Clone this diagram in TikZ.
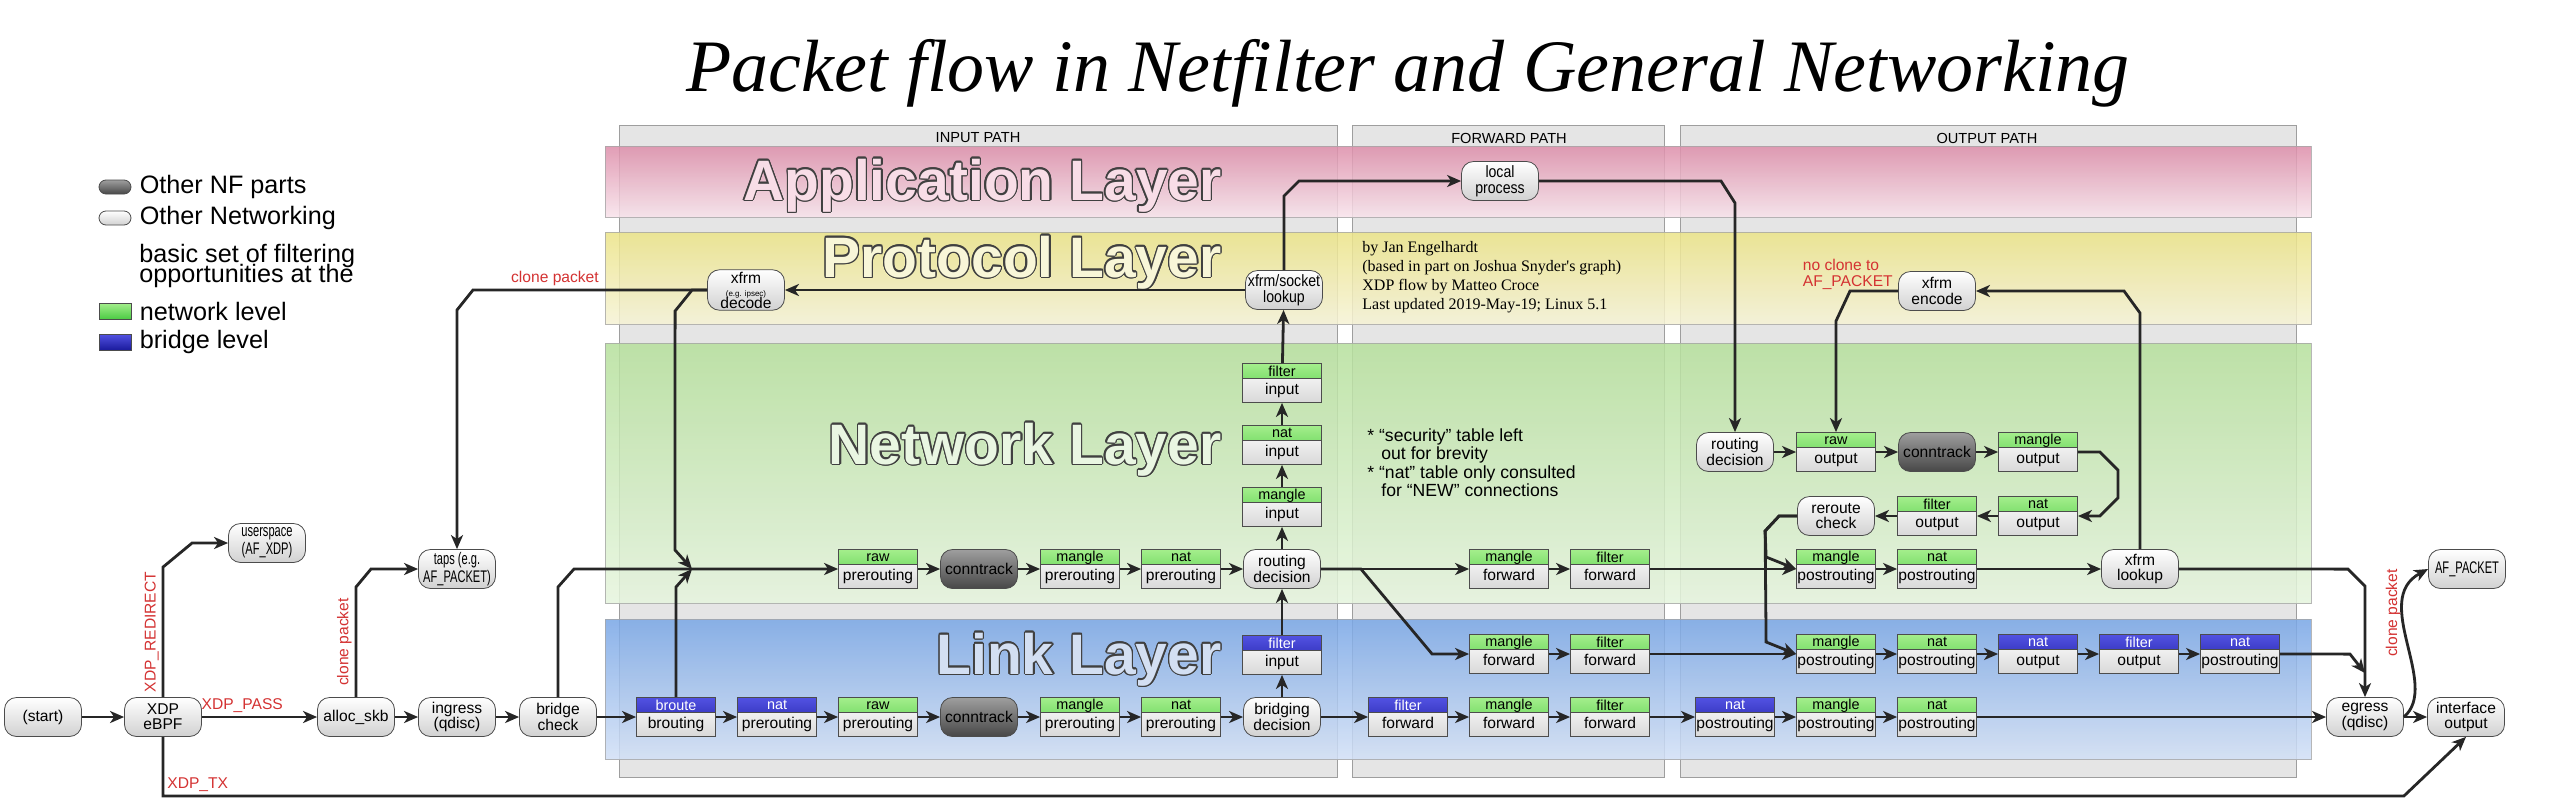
\documentclass[tikz,border=0pt]{standalone}
\usepackage{fontspec}
\setmainfont{Liberation Sans}
\newfontfamily\arialfont{Liberation Sans}
\newfontfamily\condfam[FakeStretch=0.86]{Liberation Sans}
\newfontfamily\xcondfam[FakeStretch=0.66]{Liberation Sans}
\newfontfamily\seriffam{Liberation Serif}
\usepackage{contour}
\contourlength{0.7pt}
\usetikzlibrary{positioning,calc,arrows.meta}

\definecolor{apptop}{HTML}{DD8DA9}
\definecolor{appbot}{HTML}{F8E3EB}
\definecolor{prototop}{HTML}{ECE487}
\definecolor{protobot}{HTML}{F6F3D6}
\definecolor{nettop}{HTML}{B6E09C}
\definecolor{netbot}{HTML}{E6F5DE}
\definecolor{linktop}{HTML}{78A6E6}
\definecolor{linkbot}{HTML}{D2E0F6}
\definecolor{appfg}{HTML}{F8DDE7}
\definecolor{protofg}{HTML}{F8F6D8}
\definecolor{netfg}{HTML}{E9F6E2}
\definecolor{linkfg}{HTML}{D3DFF2}
\definecolor{hgtop}{HTML}{A4EE8C}
\definecolor{hgbot}{HTML}{4CCB44}
\definecolor{hbtop}{HTML}{5252E2}
\definecolor{hbbot}{HTML}{1A1A9C}
\definecolor{lblred}{HTML}{D43232}

\newcommand\nodefont{\arialfont\fontsize{7.8}{7.6}\selectfont}
\newcommand\hdrfont{\arialfont\fontsize{7.2}{7.4}\selectfont}
\newcommand\condfont{\condfam\fontsize{8.2}{7.8}\selectfont}
\newcommand\xcondfont{\xcondfam\fontsize{8.4}{7.8}\selectfont}
\newcommand\tinyfont{\arialfont\fontsize{4}{4.4}\selectfont}
\newcommand\lblfont{\arialfont\fontsize{7.8}{8}\selectfont}
\newcommand\legfont{\arialfont\fontsize{12.6}{13}\selectfont}
\newcommand\legtight{\arialfont\fontsize{12.6}{9.6}\selectfont\lineskiplimit=-20pt}
\newcommand\layfont{\arialfont\bfseries\fontsize{28.5}{30}\selectfont}

\begin{document}
\begin{tikzpicture}[x=0.5pt,y=-0.5pt,node distance=50.5pt,>={Stealth[length=7pt,width=6pt,inset=2pt]}]
\tikzset{
  pill/.style={draw=gray!60!black,rounded corners=6pt,top color=white,bottom color=black!18,
    minimum width=38.5pt,minimum height=19.5pt,inner sep=1pt,align=center,font=\nodefont},
  darkpill/.style={pill,top color=black!38,bottom color=black!72},
  grnhdr/.style={top color=hgtop,bottom color=hgbot},
  bluhdr/.style={top color=hbtop,bottom color=hbbot},
  tbl/.style n args={3}{draw=gray!60!black,top color=white,bottom color=black!15,
    minimum width=39.5pt,minimum height=19.5pt,inner sep=0pt,
    text height=13.4pt,text depth=1.8pt,font=\nodefont,
    path picture={
      \shade[#1] (path picture bounding box.north west) rectangle ([yshift=-7.5pt]path picture bounding box.north east);
      \draw[gray!60!black,line width=0.4pt] ([yshift=-7.5pt]path picture bounding box.north west) -- ([yshift=-7.5pt]path picture bounding box.north east);
      \node[text=#2,font=\hdrfont,inner sep=0pt,text height={},text depth={},minimum width=0pt,minimum height=0pt]
        at ([yshift=-3.9pt]path picture bounding box.north) {#3};
    }},
  gtbl/.style={tbl={grnhdr}{black}{#1}},
  btbl/.style={tbl={bluhdr}{white}{#1}},
  flow/.style={->,line width=1.4pt,draw=black!85},
  redlbl/.style={text=lblred,font=\lblfont,inner sep=1.5pt},
  colbox/.style={draw=black!38,fill=black!10},
  band/.style={draw=black!35,fill opacity=0.85,draw opacity=0.8},
  laytxt/.style={font=\layfont,anchor=base east,inner sep=0pt},
  coltxt/.style={font=\arialfont\fontsize{7.3}{8}\selectfont,inner sep=0pt},
  legtxt/.style={font=\legfont,inner sep=0pt},
  legbox/.style={draw=gray!60!black,minimum width=16pt,minimum height=8pt,inner sep=0pt}
}
\fill[white] (0,0) rectangle (2560,809);
\useasboundingbox (0,0) rectangle (2560,809);

% columns and layers
\foreach \xa/\xb in {619/1337,1352/1664,1680/2296}
  \draw[colbox] (\xa,125) rectangle (\xb,777);
\node[coltxt] (inhdr) at (978,138) {INPUT PATH};
\node[coltxt] (fwhdr) at (1509,138) {FORWARD PATH};
\node[coltxt] (outhdr) at (1987,138) {OUTPUT PATH};
\shadedraw[band,top color=apptop,bottom color=appbot] (605,146) rectangle (2311,217);
\shadedraw[band,top color=prototop,bottom color=protobot] (605,232) rectangle (2311,324);
\shadedraw[band,top color=nettop,bottom color=netbot] (605,343) rectangle (2311,603);
\shadedraw[band,top color=linktop,bottom color=linkbot] (605,619) rectangle (2311,759);
\node[laytxt,text=appfg] (lapp) at (1222,200) {\contour{black!75}{Application Layer}};
\node[laytxt,text=protofg] (lproto) at (1222,277) {\contour{black!75}{Protocol Layer}};
\node[laytxt,text=netfg] (lnet) at (1222,464) {\contour{black!75}{Network Layer}};
\node[laytxt,text=linkfg] (llink) at (1222,674) {\contour{black!75}{Link Layer}};

\node[font=\seriffam\itshape\fontsize{37}{40}\selectfont] (ttl) at (1408,73) {Packet flow in Netfilter and General Networking};

% legend
\node[darkpill,minimum width=16pt,minimum height=7pt,rounded corners=3.5pt] (lgnf) at (115,187) {};
\node[pill,minimum width=16pt,minimum height=7pt,rounded corners=3.5pt] (lgnet) at (115,218) {};
\node[legbox,grnhdr] (lggrn) at (115,311) {};
\node[legbox,bluhdr] (lgblu) at (115,342) {};
\node[legtxt,right=4pt of lgnf] (lgtnf) {Other NF parts};
\node[legtxt,right=4pt of lgnet] (lgtnet) {Other Networking};
\node[legtxt,font=\legtight,align=left,anchor=west] (lgtbas) at (139,266) {basic set of filtering\\opportunities at the};
\node[legtxt,right=4pt of lggrn] (lgtgrn) {network level};
\node[legtxt,right=4pt of lgblu] (lgtblu) {bridge level};

\node[font=\seriffam\fontsize{8}{9.5}\selectfont,align=left,anchor=north west,inner sep=0pt] (cred) at (1362,241)
  {by Jan Engelhardt\\(based in part on Joshua Snyder's graph)\\XDP flow by Matteo Croce\\Last updated 2019-May-19; Linux 5.1};
\node[font=\arialfont\fontsize{8.8}{9.3}\selectfont,align=left,anchor=north west,inner sep=0pt] (notes) at (1367,428)
  {* “security” table left\\\hspace*{7pt}out for brevity\\* “nat” table only consulted\\\hspace*{7pt}for “NEW” connections};

% ingress and link layer
\node[pill] (start) at (43,717) {(start)};
\node[pill] (xdp) at (163,717) {XDP\\eBPF};
\node[pill] (alloc) at (356,717) {alloc\_skb};
\node[pill] (ingr) [right of=alloc] {ingress\\(qdisc)};
\node[pill] (brchk) [right of=ingr] {bridge\\check};
\node[btbl=broute] (brt) at (676,717) {brouting};
\node[btbl=nat] (natpb) [right of=brt] {prerouting};
\node[gtbl=raw] (rawpl) [right of=natpb] {prerouting};
\node[darkpill] (ctl) [right of=rawpl] {conntrack};
\node[gtbl=mangle] (manpl) [right of=ctl] {prerouting};
\node[gtbl=nat] (natpl) [right of=manpl] {prerouting};
\node[pill] (brdec) [right of=natpl] {bridging\\decision};
\node[btbl=filter] (fwdb) at (1408,717) {forward};
\node[gtbl=mangle] (manfl) [right of=fwdb] {forward};
\node[gtbl=filter] (filfl) [right of=manfl] {forward};
\node[btbl=nat] (npob) at (1735,717) {postrouting};
\node[gtbl=mangle] (manpol) [right of=npob] {postrouting};
\node[gtbl=nat] (natpol) [right of=manpol] {postrouting};
\node[pill] (egr) at (2365,717) {egress\\(qdisc)};
\node[pill] (ifout) [right of=egr] {interface\\output};

\node[btbl=filter] (finb) [node distance=31pt,above of=brdec] {input};
\node[gtbl=mangle] (manfu) at (1509,654) {forward};
\node[gtbl=filter] (filfu) [right of=manfu] {forward};
\node[gtbl=mangle] (manpou) at (1836,654) {postrouting};
\node[gtbl=nat] (natpou) [right of=manpou] {postrouting};
\node[btbl=nat] (natob) [right of=natpou] {output};
\node[btbl=filter] (filob) [right of=natob] {output};
\node[btbl=nat] (npobu) [right of=filob] {postrouting};

% network layer
\node[gtbl=raw] (rawpn) at (878,569) {prerouting};
\node[darkpill] (ctn) [right of=rawpn] {conntrack};
\node[gtbl=mangle] (manpn) [right of=ctn] {prerouting};
\node[gtbl=nat] (natpn) [right of=manpn] {prerouting};
\node[pill] (rtdec) [right of=natpn] {routing\\decision};
\node[gtbl=mangle] (manin) [node distance=31pt,above of=rtdec] {input};
\node[gtbl=nat] (natin) [node distance=31pt,above of=manin] {input};
\node[gtbl=filter] (filin) [node distance=31pt,above of=natin] {input};
\node[gtbl=mangle] (manfn) at (1509,569) {forward};
\node[gtbl=filter] (filfn) [right of=manfn] {forward};
\node[gtbl=mangle] (manpon) at (1836,569) {postrouting};
\node[gtbl=nat] (natpon) [right of=manpon] {postrouting};
\node[pill] (xlook) at (2140,569) {xfrm\\lookup};

\node[pill] (rtdeco) at (1735,452) {routing\\decision};
\node[gtbl=raw] (rawo) [right of=rtdeco] {output};
\node[darkpill] (cto) [right of=rawo] {conntrack};
\node[gtbl=mangle] (mano) [right of=cto] {output};
\node[gtbl=nat] (nato) at (2038,516) {output};
\node[gtbl=filter] (filo) [left of=nato] {output};
\node[pill] (rrchk) [left of=filo] {reroute\\check};

% protocol and application
\node[pill,font=\condfont] (sock) at (1284,290) {xfrm/socket\\lookup};
\node[pill] (xdec) at (746,290) {xfrm\\[-1.1pt]{\tinyfont (e.g. ipsec)}\\[-1.6pt]decode};
\node[pill] (xenc) at (1937,291) {xfrm\\encode};
\node[pill,font=\condfont] (lproc) at (1500,181) {local\\process};
\node[pill,font=\xcondfont] (usp) at (267,543) {userspace\\(AF\_XDP)};
\node[pill,font=\xcondfont] (taps) at (457,569) {taps (e.g.\\AF\_PACKET)};
\node[pill,font=\xcondfont] (afp) at (2467,569) {AF\_PACKET};

\coordinate (mrg) at (692,569);
\coordinate (egin) at ($(egr.north)+(0,-24)$);
\coordinate (txbend) at ($(ifout.south)+(-62,59)$);

\foreach \a/\b in {start/xdp,alloc/ingr,ingr/brchk,brchk/brt,brt/natpb,natpb/rawpl,rawpl/ctl,ctl/manpl,
    manpl/natpl,natpl/brdec,brdec/fwdb,fwdb/manfl,manfl/filfl,filfl/npob,npob/manpol,manpol/natpol,
    natpol/egr,egr/ifout,manfu/filfu,filfu/manpou,manpou/natpou,natpou/natob,natob/filob,filob/npobu,
    rawpn/ctn,ctn/manpn,manpn/natpn,natpn/rtdec,rtdec/manfn,manfn/filfn,filfn/manpon,manpon/natpon,
    natpon/xlook,rtdeco/rawo,rawo/cto,cto/mano,nato/filo,filo/rrchk,sock/xdec,
    brdec/finb,finb/rtdec,rtdec/manin,manin/natin,natin/filin,filin/sock}
  \draw[flow] (\a) -- (\b);

\draw[flow] (xdp) -- node[redlbl,pos=0.35,above] {XDP\_PASS} (alloc);
\draw[flow] (xdp.north) -- node[redlbl,sloped,above] {XDP\_REDIRECT} ++(0,-130) -- ($(usp.west)+(-36,0)$) -- (usp.west);
\draw[flow] (xdp.south) |- node[redlbl,pos=0.5,above right] {XDP\_TX} (txbend) -- (ifout.south);
\draw[flow] (alloc.north) -- node[redlbl,sloped,above] {clone packet} ($(alloc.north |- taps.west)+(0,18)$) -- ($(alloc.north |- taps.west)+(15,0)$) -- (taps.west);
\draw[flow] (brchk.north) -- ($(brchk.north |- rawpn.west)+(0,18)$) -- ($(brchk.north |- rawpn.west)+(16,0)$) -- (rawpn.west);
\draw[flow] (xdec.west) -- node[redlbl,pos=0.65,above] {clone packet} ($(taps.north |- xdec.west)+(16,0)$) -- ($(taps.north |- xdec.west)+(0,20)$) -- (taps.north);
\draw[flow] (xdec.west) -- ++(-15,0) -- ++(-17,21) -- ($(mrg)+(-17,-19)$) -- (mrg);
\draw[flow] (brt.north) -- ($(mrg)+(-16,18)$) -- (mrg);
\draw[flow] (sock.north) -- ($(sock.north |- lproc.west)+(0,15)$) -- ($(sock.north |- lproc.west)+(15,0)$) -- (lproc.west);
\draw[flow] (lproc.east) -- ($(rtdeco.north |- lproc.east)+(-14,0)$) -- ($(rtdeco.north |- lproc.east)+(0,22)$) -- (rtdeco.north);
\draw[flow] (xlook.north) -- ($(xlook.north |- xenc.east)+(0,22)$) -- ($(xlook.north |- xenc.east)+(-16,0)$) -- (xenc.east);
\draw[flow] (xenc.west) -- ($(rawo.north |- xenc.west)+(14,0)$) -- ($(rawo.north |- xenc.west)+(0,30)$) -- (rawo.north);
\node[redlbl,align=left,anchor=south east] (nocl) at ($(xenc.west)+(-2,2)$) {no clone to\\AF\_PACKET};
\draw[flow] (mano.east) -- ++(22,0) -- ++(18,18) -- ($(nato.east)+(40,-18)$) -- ($(nato.east)+(22,0)$) -- (nato.east);
\draw[flow] (rrchk.west) -- ++(-18,0) -- ++(-14,15) -- ($(manpou.west)+(-30,-12)$) -- (manpou.west);
\draw[flow] (rrchk.west) -- ++(-18,0) -- ++(-14,15) -- ($(manpon.west)+(-30,-12)$) -- (manpon.west);
\draw[flow] (rtdec.east) -- ++(40,0) -- ($(manfu.west)+(-37,0)$) -- (manfu.west);
\draw[flow] (xlook.east) -- ($(egr.north)+(-17,-128)$) -- ($(egr.north)+(0,-111)$) -- (egr.north);
\draw[flow] (npobu.east) -- ($(egr.north)+(-15,-43)$) -- (egin);
\draw[flow] (egr.east) .. controls +(37,-32) and +(-58,31) .. (afp.west);
\node[redlbl,rotate=90] (clp) at ($(egr.north)+(28,-84)$) {clone packet};
\end{tikzpicture}
\end{document}
